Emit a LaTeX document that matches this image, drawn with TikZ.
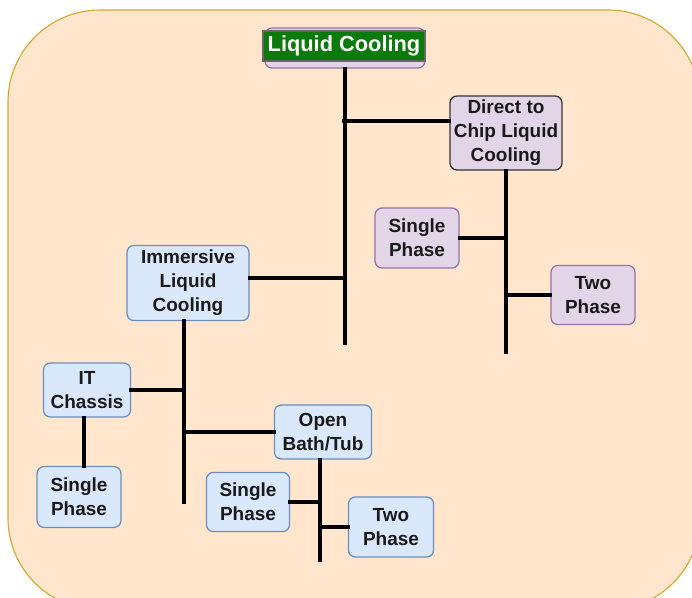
\documentclass[tikz,border=0pt]{standalone}
\usepackage{fontspec}
\setmainfont{Liberation Sans}
\usepackage{tikz}
\usetikzlibrary{positioning,calc}
\definecolor{peachbg}{HTML}{FFE6CC}
\definecolor{peachline}{HTML}{D6A827}
\definecolor{bluefill}{HTML}{DAE8FC}
\definecolor{blueline}{HTML}{6C8EBF}
\definecolor{lilacfill}{HTML}{E1D5E7}
\definecolor{lilacline}{HTML}{9673A6}
\definecolor{titlegreen}{HTML}{0A7A0A}

\begin{document}
\begin{tikzpicture}[
 x=0.025cm,y=-0.025cm,
 box/.style={rounded corners=5pt,draw,line width=0.9pt,align=center,inner sep=0pt,
  font=\fontsize{13.5}{17}\selectfont\bfseries,text=black!90},
 bluebox/.style={box,draw=blueline,fill=bluefill},
 lilacbox/.style={box,draw=lilacline,fill=lilacfill},
 bar/.style={line width=2.8pt,line cap=rect}
]
\useasboundingbox (0,0) rectangle (692,598);
% background panel
\draw[peachline,fill=peachbg,line width=0.8pt,rounded corners=2.3cm] (8,10) rectangle (700,610);
% top
\node[box,draw=lilacline,fill=lilacfill,minimum width=4cm,minimum height=1cm] (lcback) at (345,48) {};
\node[box,rounded corners=0pt,draw=black!60,fill=titlegreen,text=white,
  font=\fontsize{15.5}{18}\selectfont\bfseries,minimum width=4.05cm,minimum height=0.75cm] (lc) at (344,46) {Liquid Cooling};
% direct to chip branch
\node[lilacbox,draw=black!80,minimum width=2.8cm,minimum height=1.85cm] (dtc) at (506,133) {Direct to\\Chip Liquid\\Cooling};
\node[lilacbox,minimum width=2.1cm,minimum height=1.5cm] (sp1) at (417,238) {Single\\Phase};
\node[lilacbox,minimum width=2.1cm,minimum height=1.48cm] (tp1) at (593,295) {Two\\Phase};
% immersive branch
\node[bluebox,minimum width=3.05cm,minimum height=1.88cm] (ilc) at (188,283) {Immersive\\Liquid\\Cooling};
\node[bluebox,minimum width=2.18cm,minimum height=1.35cm] (itc) at (87,390) {IT\\Chassis};
\node[bluebox,minimum width=2.1cm,minimum height=1.52cm] (sp2) at (79,497) {Single\\Phase};
\node[bluebox,minimum width=2.43cm,minimum height=1.35cm] (obt) at (323,432) {Open\\Bath/Tub};
\node[bluebox,minimum width=2.08cm,minimum height=1.48cm] (sp3) at (248,502) {Single\\Phase};
\node[bluebox,minimum width=2.13cm,minimum height=1.5cm] (tp2) at (391,527) {Two\\Phase};
% trunk ends
\coordinate (lcend) at (344,343);
\coordinate (dtcjoin) at (344,121);
\coordinate (dtcend) at (505,352);
\coordinate (ilcend) at (184,502);
\coordinate (obtend) at (320,560);
% connectors
\draw[bar] (lcback.south) -- (lcback.south |- lcend);
\draw[bar] (dtcjoin) -- (dtcjoin -| dtc.west);
\draw[bar] ($(ilc.east)+(0,-5)$) -- ($(ilc.east -| lcback.south)+(0,-5)$);
\draw[bar] (dtc.south) -- (dtc.south |- dtcend);
\draw[bar] (sp1.east) -- (sp1.east -| dtc.south);
\draw[bar] (tp1.west) -- (tp1.west -| dtc.south);
\draw[bar] ($(ilc.south)+(-4,0)$) -- (ilcend);
\draw[bar] (itc.east) -- (itc.east -| ilcend);
\draw[bar] (obt.west) -- (obt.west -| ilcend);
\draw[bar] ($(itc.south)+(-3,0)$) -- ($(itc.south |- sp2.north)+(-3,0)$);
\draw[bar] ($(obt.south)+(-3,0)$) -- (obtend);
\draw[bar] (sp3.east) -- (sp3.east -| obtend);
\draw[bar] (tp2.west) -- (tp2.west -| obtend);
\end{tikzpicture}
\end{document}
